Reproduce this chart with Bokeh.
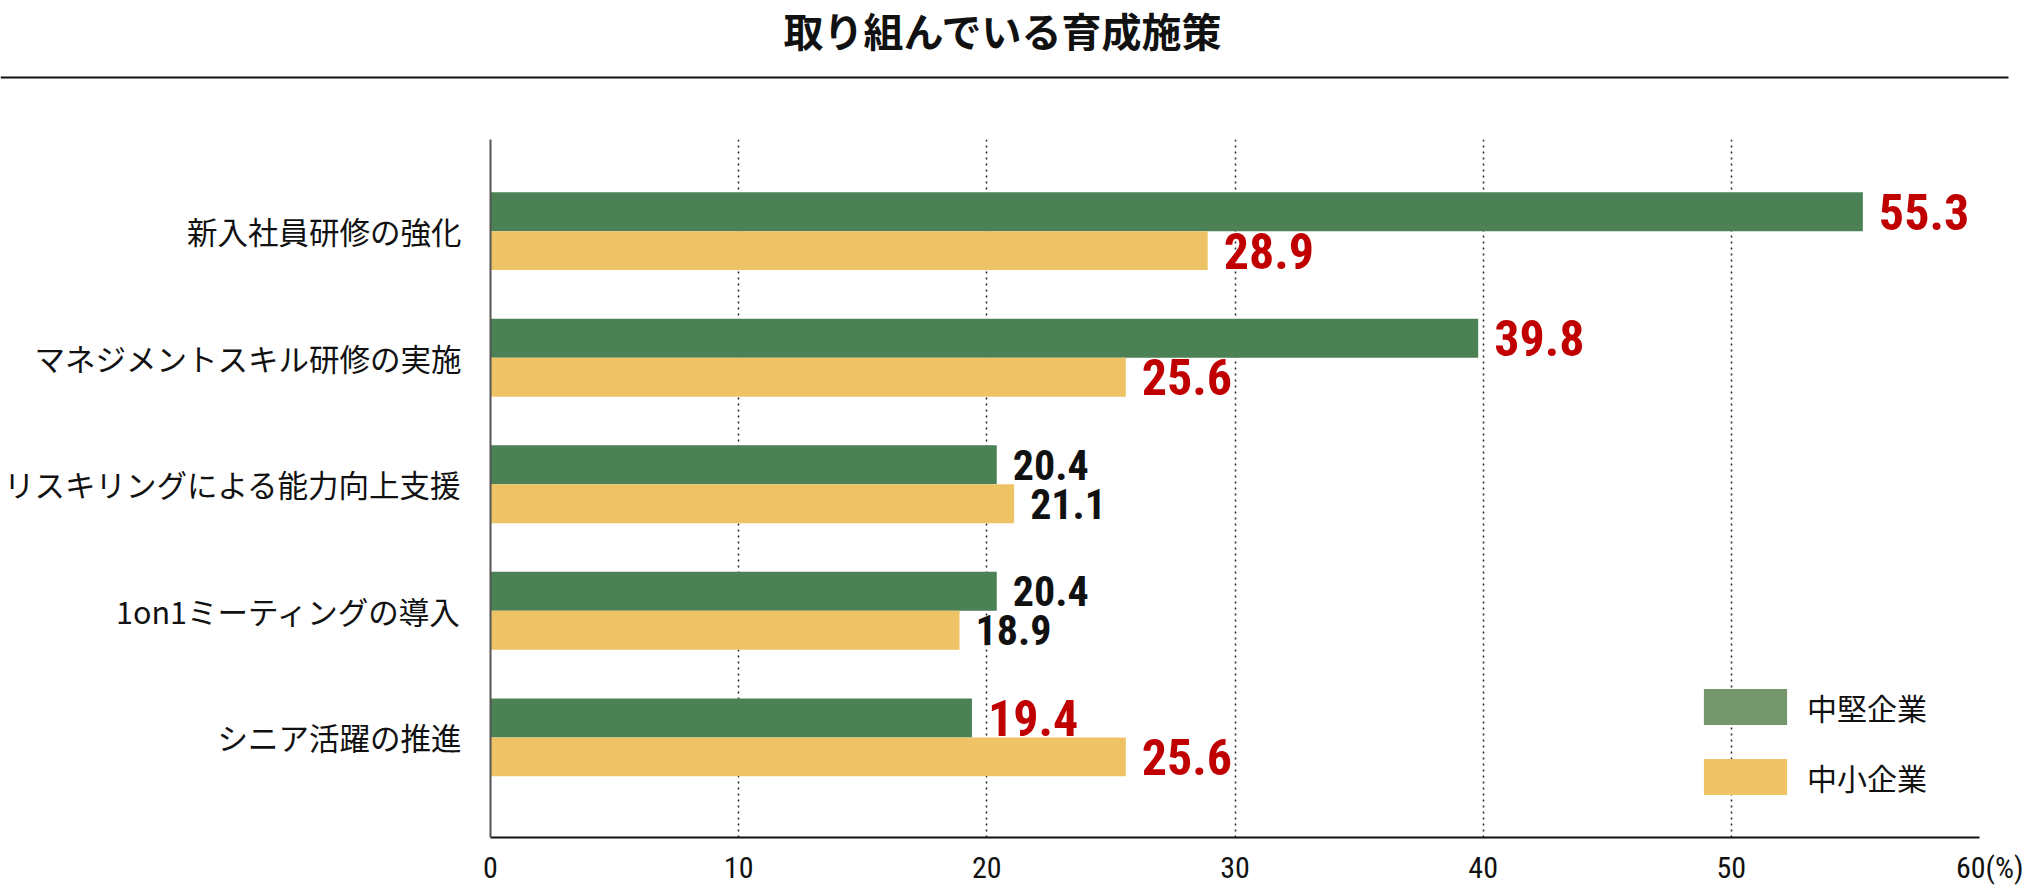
from bokeh.plotting import figure
from bokeh.models import Range1d, FixedTicker, Legend, LegendItem, ColumnDataSource
from bokeh.layouts import column
from bokeh.embed import file_html
from bokeh.resources import INLINE
from bokeh.core.properties import value

# ---------------- data ----------------
title = "取り組んでいる育成施策"
categories = ["新入社員研修の強化", "マネジメントスキル研修の実施", "リスキリングによる能力向上支援",
              "1on1ミーティングの導入", "シニア活躍の推進"]
mid_values = [55.3, 39.8, 20.4, 20.4, 19.4]     # 中堅企業
small_values = [28.9, 25.6, 21.1, 18.9, 25.6]   # 中小企業
highlight = [True, True, False, False, True]
series_names = ["中堅企業", "中小企業"]
x_ticks = [0, 10, 20, 30, 40, 50, 60]
tick_labels = ["0", "10", "20", "30", "40", "50", "60"]
unit_label = "(%)"

# ---------------- styles ----------------
JP = "Noto Sans CJK JP"
NUM = "Roboto Condensed, DejaVu Sans Condensed, Roboto, sans-serif"
GREEN = "#4b8154"
YELLOW = "#eec366"
LG_GREEN = "#76966c"
LG_YELLOW = "#eec466"
RED = "#c00000"
INK = "#111111"
W = 2023
TOP_H = 90
MAIN_H = 797
BAR_H = 0.308
Y_BOTTOM = 4.791
Y_TOP = -0.724

# ---------------- title strip ----------------
t = figure(width=W, height=TOP_H, output_backend="svg", toolbar_location=None,
           x_range=Range1d(0, W), y_range=Range1d(TOP_H, 0), min_border=0,
           x_axis_location=None, y_axis_location=None)
t.frame_align = False
t.grid.visible = False
t.outline_line_color = None
t.text(x=[1003], y=[29], text=[title], text_align="center", text_baseline="middle",
       text_font=value(JP), text_font_style="bold", text_font_size="40px", text_color=INK)
t.segment(x0=[0], y0=[77], x1=[2008], y1=[77], line_color=INK, line_width=2)

# ---------------- main chart ----------------
p = figure(width=W, height=MAIN_H, output_backend="svg", toolbar_location=None,
           x_range=Range1d(0, 60), y_range=Range1d(Y_BOTTOM, Y_TOP),
           min_border_left=490, min_border_right=44, min_border_top=49, min_border_bottom=41)
p.frame_align = False
p.outline_line_color = None

idx = list(range(len(categories)))
src = ColumnDataSource(dict(
    y_mid=[i - BAR_H / 2 for i in idx],
    y_small=[i + BAR_H / 2 for i in idx],
    mid=mid_values,
    small=small_values,
))
p.hbar(y="y_mid", left=0, right="mid", height=BAR_H, fill_color=GREEN, line_color=None, source=src)
p.hbar(y="y_small", left=0, right="small", height=BAR_H, fill_color=YELLOW, line_color=None, source=src)

# value labels
red = dict(x=[], y=[], t=[])
black = dict(x=[], y=[], t=[])
for i in idx:
    d = red if highlight[i] else black
    for v, yy in ((mid_values[i], i - BAR_H / 2), (small_values[i], i + BAR_H / 2)):
        d["x"].append(v)
        d["y"].append(yy)
        d["t"].append(f"{v:.1f}")

p.text(x="x", y="y", text="t", source=ColumnDataSource(red), x_offset=16,
       text_align="left", text_baseline="middle", text_font=value(NUM),
       text_font_style="bold", text_font_size="50px", text_color=RED)
p.text(x="x", y="y", text="t", source=ColumnDataSource(black), x_offset=16,
       text_align="left", text_baseline="middle", text_font=value(NUM),
       text_font_style="bold", text_font_size="42px", text_color=INK)

# x axis
overrides = {tk: lb for tk, lb in zip(x_ticks, tick_labels)}
overrides[x_ticks[-1]] = "\u00a0\u00a0\u00a0" + tick_labels[-1] + unit_label
p.xaxis.ticker = FixedTicker(ticks=x_ticks)
p.xaxis.major_label_overrides = overrides
p.xaxis.major_label_text_font = NUM
p.xaxis.major_label_text_font_size = "30px"
p.xaxis.major_label_text_color = INK
p.xaxis.major_label_standoff = 6
p.xaxis.major_tick_line_color = None
p.xaxis.minor_tick_line_color = None
p.xaxis.axis_line_color = INK
p.xaxis.axis_line_width = 2

# y axis (categories)
p.yaxis.ticker = FixedTicker(ticks=idx)
p.yaxis.major_label_overrides = {i: c for i, c in zip(idx, categories)}
p.yaxis.major_label_text_font = JP
p.yaxis.major_label_text_font_size = "30.5px"
p.yaxis.major_label_text_color = INK
p.yaxis.major_label_standoff = 23
p.yaxis.major_tick_line_color = None
p.yaxis.minor_tick_line_color = None
p.yaxis.axis_line_color = "#555555"
p.yaxis.axis_line_width = 2

# grid
p.xgrid.ticker = FixedTicker(ticks=x_ticks[1:])
p.xgrid.grid_line_color = "#222222"
p.xgrid.grid_line_dash = "2 4"
p.xgrid.grid_line_width = 1.5
p.ygrid.visible = False

# legend
lr1 = p.hbar(y=[-10], left=[0], right=[0], height=BAR_H, fill_color=LG_GREEN, line_color=None)
lr2 = p.hbar(y=[-10], left=[0], right=[0], height=BAR_H, fill_color=LG_YELLOW, line_color=None)
legend = Legend(items=[LegendItem(label=series_names[0], renderers=[lr1]),
                       LegendItem(label=series_names[1], renderers=[lr2])],
                location=(1203, 38), glyph_width=104, glyph_height=45, label_height=45,
                label_standoff=10, spacing=25, padding=0, margin=0,
                label_text_font=JP, label_text_font_size="30px", label_text_color=INK,
                border_line_color=None, background_fill_alpha=0)
p.add_layout(legend)

layout = column(t, p)
open("out.html", "w").write(file_html(layout, INLINE))
